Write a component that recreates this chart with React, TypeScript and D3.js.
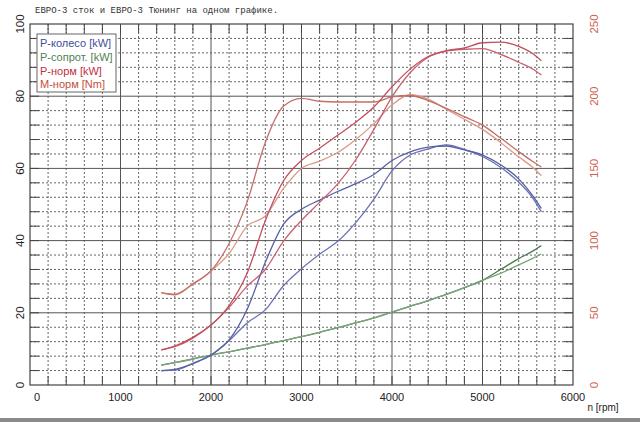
import * as d3 from "d3";

// rpm grid shared by all measured curves
const RPM = [1450, 1600, 1800, 2000, 2200, 2400, 2600, 2800, 3000, 3200, 3400, 3600, 3800, 4000, 4200, 4400, 4600, 4800, 5000, 5200, 5400, 5550, 5650];

// P-колесо [kW]
const WHEEL_TUNED = [4.0, 4.3, 5.9, 8.3, 12.5, 21.0, 34.0, 44.5, 48.7, 51.2, 53.6, 55.8, 58.3, 62.2, 64.6, 65.9, 66.2, 65.1, 63.7, 61.0, 57.1, 52.6, 48.9];
const WHEEL_STOCK = [4.0, 4.1, 6.0, 8.3, 12.3, 17.2, 20.8, 27.5, 32.2, 36.2, 39.8, 45.0, 51.5, 59.3, 63.7, 65.4, 66.5, 65.3, 63.3, 60.3, 56.2, 52.0, 48.0];
// P-сопрот. [kW]
const DRAG_A = [5.5, 6.2, 7.2, 8.3, 9.2, 10.2, 11.2, 12.3, 13.4, 14.6, 15.9, 17.2, 18.6, 20.2, 21.8, 23.4, 25.1, 27.0, 29.0, 32.0, 35.0, 37.0, 38.6];
const DRAG_B = [5.5, 6.2, 7.2, 8.3, 9.2, 10.2, 11.2, 12.3, 13.4, 14.6, 15.9, 17.2, 18.6, 20.2, 21.8, 23.4, 25.1, 27.0, 29.0, 30.9, 33.3, 35.0, 36.3];
// P-норм [kW]
const NORM_TUNED = [9.7, 10.8, 13.2, 16.6, 22.0, 31.0, 45.5, 56.5, 62.2, 65.6, 69.2, 72.8, 77.0, 82.6, 87.5, 91.0, 92.6, 93.4, 94.8, 95.0, 93.8, 91.9, 89.8];
const NORM_STOCK = [9.7, 10.6, 13.0, 16.6, 21.5, 27.4, 32.0, 39.8, 45.6, 50.6, 55.7, 62.4, 70.8, 79.8, 86.5, 90.8, 92.5, 93.0, 93.2, 91.6, 89.4, 87.6, 85.9];
// M-норм [Nm]
const TORQUE_TUNED = [64, 62.5, 70, 79, 98, 127, 168, 193, 198.5, 196.5, 196, 196, 196, 199.5, 200.5, 197, 191.6, 185.8, 180, 171, 161.6, 155, 151];
const TORQUE_STOCK = [64, 63, 70, 79, 91, 110, 117, 136, 150, 155, 161, 170, 181, 194, 201, 198, 191, 184, 177, 168, 158, 151, 145];

const X_TICKS = [0, 1000, 2000, 3000, 4000, 5000, 6000];
const KW_TICKS = [0, 20, 40, 60, 80, 100];
const NM_TICKS = [0, 50, 100, 150, 200, 250];

const LEGEND = [
  { label: "P-колесо [kW]", color: "#3f4d9c" },
  { label: "P-сопрот. [kW]", color: "#4f8250" },
  { label: "P-норм [kW]", color: "#c0303e" },
  { label: "M-норм [Nm]", color: "#c4503a" },
];

const W = 640;
const H = 422;
const L = 30, R = 573, T = 24, B = 385;

export default function App() {
  const x = d3.scaleLinear().domain([0, 6000]).range([L, R]);
  const yKw = d3.scaleLinear().domain([0, 100]).range([B, T]);
  const yNm = d3.scaleLinear().domain([0, 250]).range([B, T]);

  const lineKw = d3.line<number>().x((_, i) => x(RPM[i])).y((d) => yKw(d)).curve(d3.curveMonotoneX);
  const lineNm = d3.line<number>().x((_, i) => x(RPM[i])).y((d) => yNm(d)).curve(d3.curveMonotoneX);

  const minorX = d3.range(200, 6000, 200).filter((v) => v % 1000 !== 0);
  const minorY = d3.range(4, 100, 4).filter((v) => v % 20 !== 0);
  const tickX = d3.range(200, 6000, 200);
  const tickY = d3.range(4, 100, 4);

  const curves = [
    { d: lineKw(DRAG_A), c: "#4d7d4f" },
    { d: lineKw(DRAG_B), c: "#7ea47c" },
    { d: lineKw(WHEEL_STOCK), c: "#6a72b2" },
    { d: lineKw(WHEEL_TUNED), c: "#5660a8" },
    { d: lineNm(TORQUE_STOCK), c: "#d99a86" },
    { d: lineNm(TORQUE_TUNED), c: "#c46e66" },
    { d: lineKw(NORM_STOCK), c: "#c9606e" },
    { d: lineKw(NORM_TUNED), c: "#c24e5c" },
  ];

  return (
    <svg width={W} height={H} style={{ position: "absolute", left: 0, top: 0, background: "#fff" }}
      fontFamily="Liberation Sans, Arial, sans-serif">
      <text x={35} y={13} fontFamily="Liberation Mono, monospace" fontSize={9} fill="#333">
        ЕВРО-3 сток и ЕВРО-3 Тюнинг на одном графике.
      </text>

      {/* dotted minor grid */}
      {minorX.map((v) => (
        <line key={"mx" + v} x1={x(v)} x2={x(v)} y1={T} y2={B} stroke="#555" strokeWidth={0.9} strokeDasharray="2,2" />
      ))}
      {minorY.map((v) => (
        <line key={"my" + v} x1={L} x2={R} y1={yKw(v)} y2={yKw(v)} stroke="#555" strokeWidth={0.9} strokeDasharray="2,2" />
      ))}
      {/* solid major grid */}
      {X_TICKS.slice(1, -1).map((v) => (
        <line key={"Mx" + v} x1={x(v)} x2={x(v)} y1={T} y2={B} stroke="#555" strokeWidth={1} />
      ))}
      {KW_TICKS.slice(1, -1).map((v) => (
        <line key={"My" + v} x1={L} x2={R} y1={yKw(v)} y2={yKw(v)} stroke="#555" strokeWidth={1} />
      ))}
      {/* inward ticks */}
      {tickX.map((v) => (
        <g key={"tx" + v} stroke="#444" strokeWidth={1}>
          <line x1={x(v)} x2={x(v)} y1={B} y2={B - 9} />
          <line x1={x(v)} x2={x(v)} y1={T} y2={T + 9} />
        </g>
      ))}
      {tickY.map((v) => (
        <g key={"ty" + v} stroke="#444" strokeWidth={1}>
          <line x1={L} x2={L + 9} y1={yKw(v)} y2={yKw(v)} />
          <line x1={R} x2={R - 9} y1={yKw(v)} y2={yKw(v)} />
        </g>
      ))}
      <rect x={L} y={T} width={R - L} height={B - T} fill="none" stroke="#444" strokeWidth={1.2} />

      {curves.map((c, i) => (
        <path key={i} d={c.d ?? ""} fill="none" stroke={c.c} strokeWidth={1.3} strokeLinejoin="round" />
      ))}

      {/* legend */}
      <rect x={37} y={34} width={79} height={58} fill="#fff" stroke="#666" strokeWidth={1} />
      {LEGEND.map((l, i) => (
        <text key={l.label} x={40} y={47 + i * 13.8} fontSize={11} fill={l.color}>{l.label}</text>
      ))}

      {/* axis labels */}
      {X_TICKS.map((v) => (
        <text key={"xl" + v} x={x(v) + (v === 0 ? 7 : 0)} y={401} fontSize={11} textAnchor="middle" fill="#222">{v}</text>
      ))}
      <text x={603} y={411} fontSize={10} textAnchor="middle" fill="#222">n [rpm]</text>
      {KW_TICKS.map((v) => (
        <text key={"kl" + v} transform={`translate(24,${yKw(v)}) rotate(-90)`} fontSize={11.5} textAnchor="middle" fill="#222">{v}</text>
      ))}
      {NM_TICKS.map((v) => (
        <text key={"nl" + v} transform={`translate(598,${yNm(v)}) rotate(-90)`} fontSize={11.5} textAnchor="middle" fill="#d0604c">{v}</text>
      ))}
      <rect x={0} y={418} width={W} height={4} fill="#8a8a8a" />
    </svg>
  );
}
